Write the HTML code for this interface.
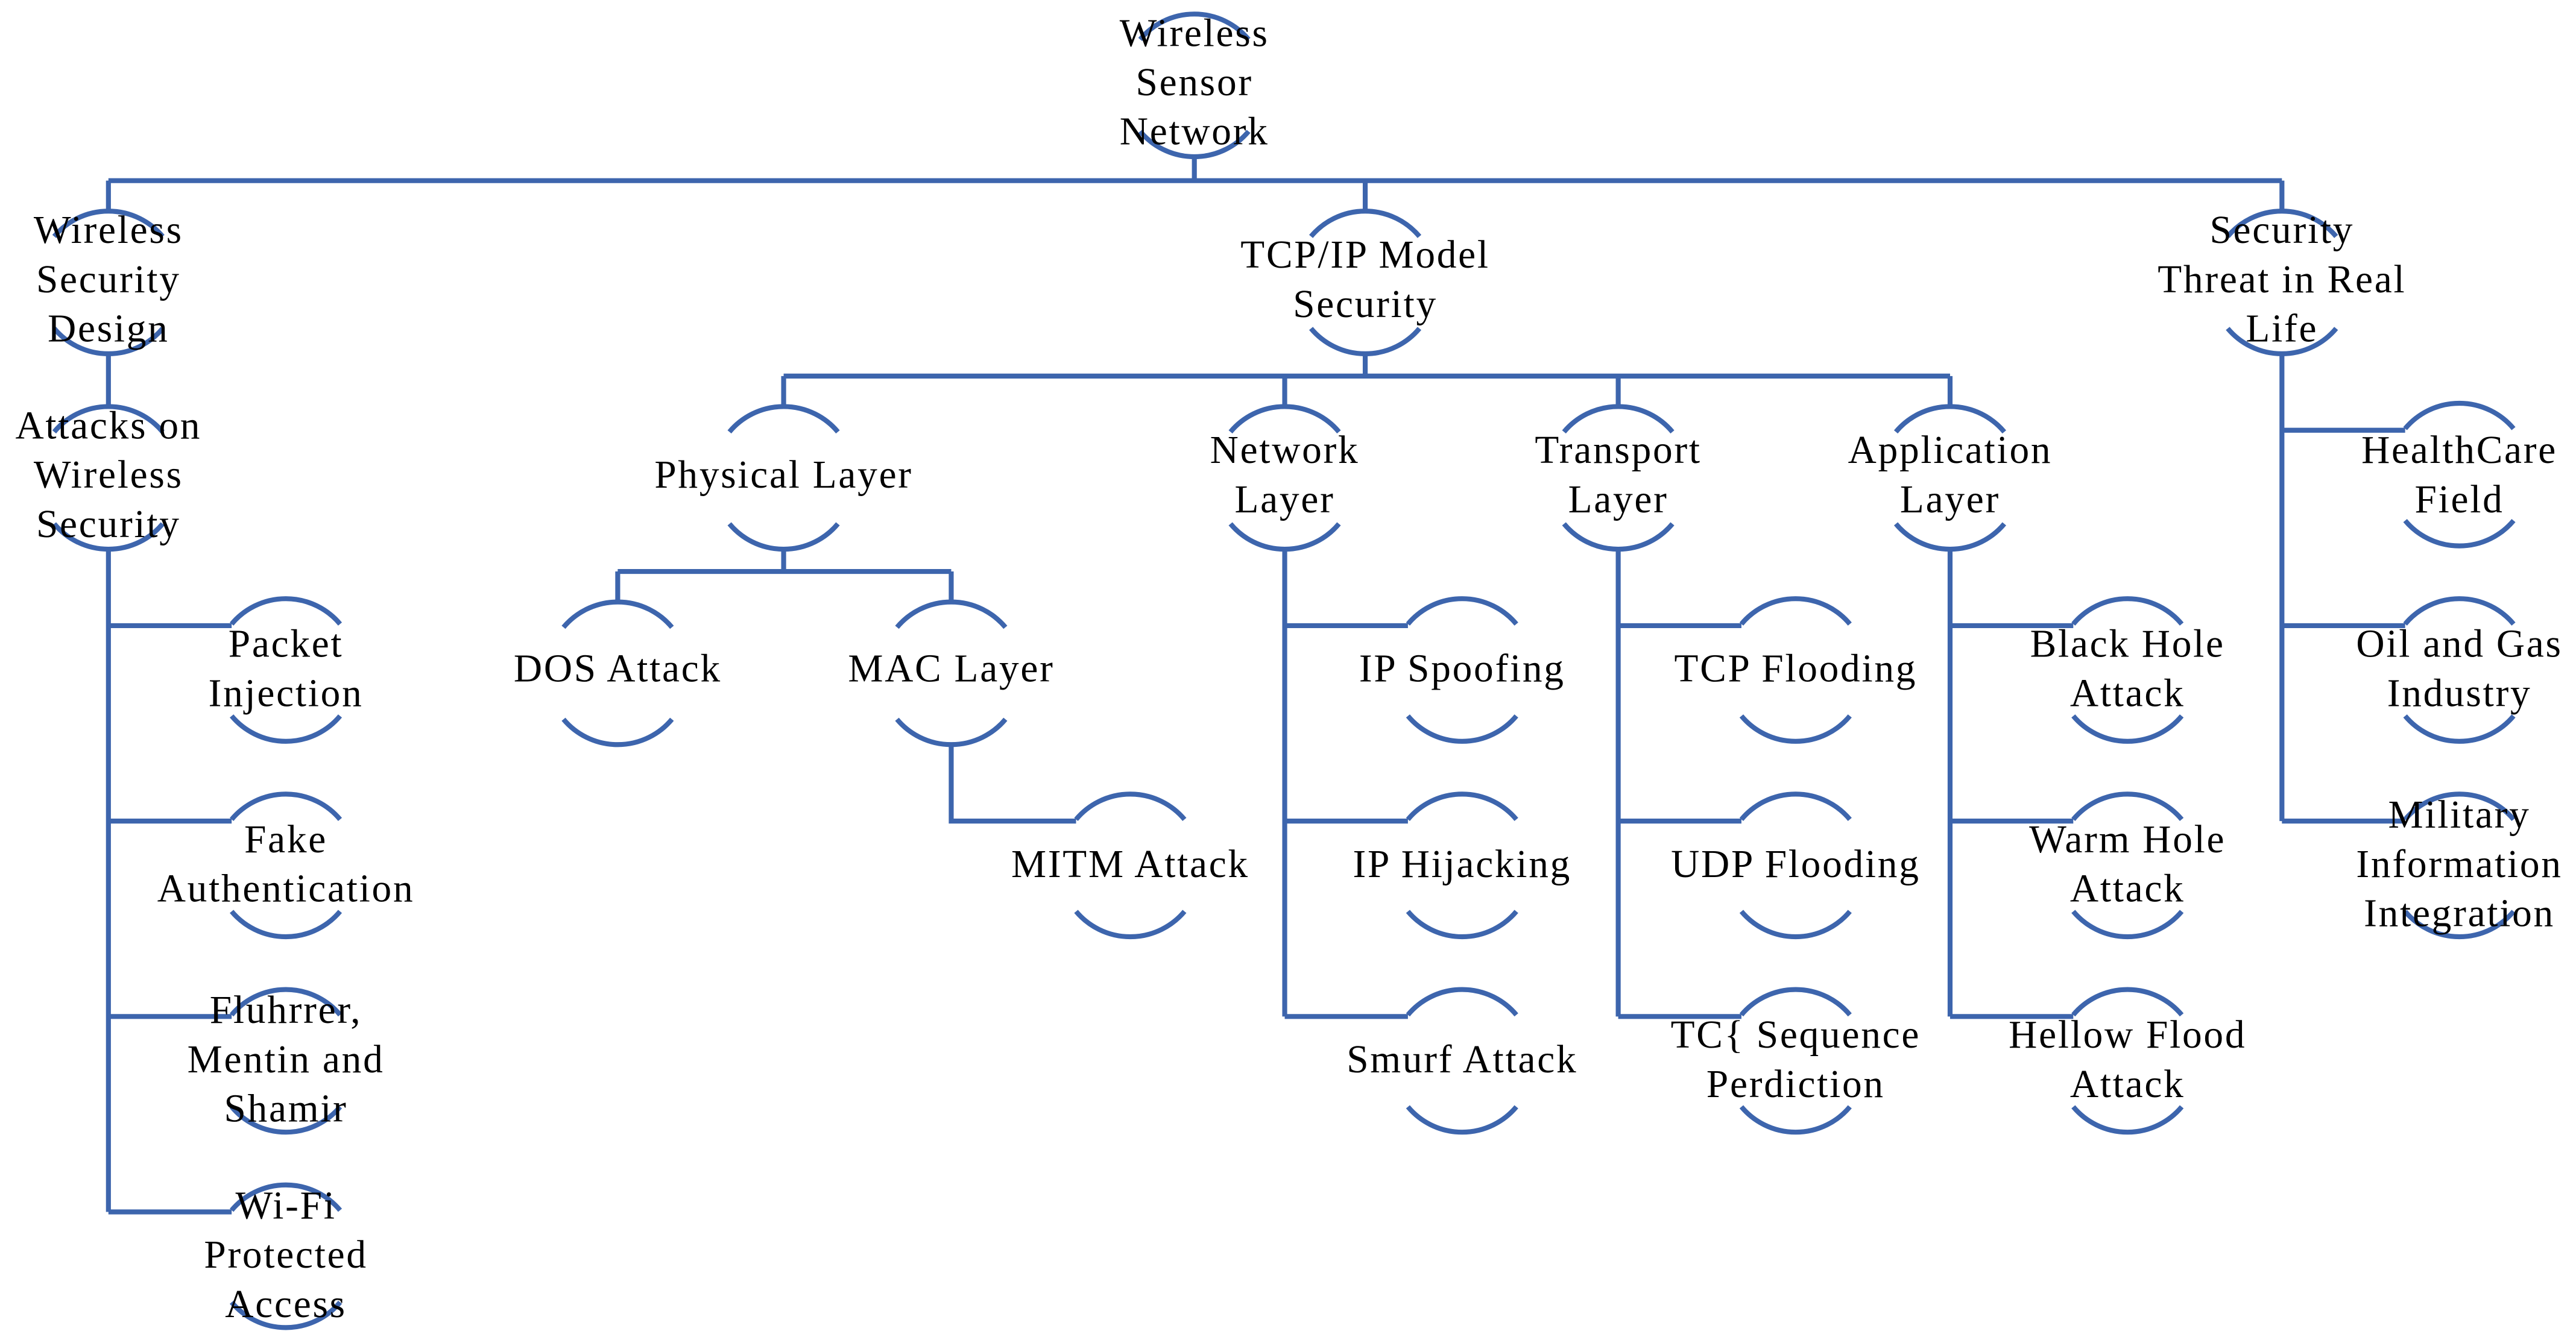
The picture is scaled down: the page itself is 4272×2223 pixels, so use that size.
<!DOCTYPE html>
<html><head><meta charset="utf-8"><style>
html,body{margin:0;padding:0;background:#fff;}
svg{display:block;}
text{font-family:"Liberation Serif",serif;font-size:24px;letter-spacing:1px;fill:#000;text-anchor:middle;}
</style></head><body>
<svg width="4272" height="2223" viewBox="0 0 1568 816" preserveAspectRatio="none" xmlns="http://www.w3.org/2000/svg">
<defs>
<g id="n" fill="none" stroke="#3d65ad" stroke-width="3">
<path d="M-33,-28 A43,43 0 0 1 33,-28"/>
<path d="M-33,28 A43,43 0 0 0 33,28"/>
</g>
</defs>
<g fill="none" stroke="#3d65ad" stroke-width="3">
<path d="M727,95 V110 M66,110 H1389 M66,110 V129 M831,110 V129 M1389,110 V129"/>
<path d="M66,215 V248 M66,334 V738 M66,381 H141 M66,500 H141 M66,619 H141 M66,738 H141"/>
<path d="M831,215 V229 M477,229 H1187 M477,229 V248 M782,229 V248 M985,229 V248 M1187,229 V248"/>
<path d="M477,334 V348 M376,348 H579 M376,348 V367 M579,348 V367 M579,453 V500 H655"/>
<path d="M782,334 V619 M782,381 H857 M782,500 H857 M782,619 H857"/>
<path d="M985,334 V619 M985,381 H1060 M985,500 H1060 M985,619 H1060"/>
<path d="M1187,334 V619 M1187,381 H1262 M1187,500 H1262 M1187,619 H1262"/>
<path d="M1389,215 V500 M1389,262 H1464 M1389,381 H1464 M1389,500 H1464"/>
</g>
<use href="#n" x="727" y="52"/>
<use href="#n" x="66" y="172"/>
<use href="#n" x="831" y="172"/>
<use href="#n" x="1389" y="172"/>
<use href="#n" x="66" y="291"/>
<use href="#n" x="174" y="408"/>
<use href="#n" x="174" y="527"/>
<use href="#n" x="174" y="646"/>
<use href="#n" x="174" y="765"/>
<use href="#n" x="477" y="291"/>
<use href="#n" x="782" y="291"/>
<use href="#n" x="985" y="291"/>
<use href="#n" x="1187" y="291"/>
<use href="#n" x="376" y="410"/>
<use href="#n" x="579" y="410"/>
<use href="#n" x="688" y="527"/>
<use href="#n" x="890" y="408"/>
<use href="#n" x="890" y="527"/>
<use href="#n" x="890" y="646"/>
<use href="#n" x="1093" y="408"/>
<use href="#n" x="1093" y="527"/>
<use href="#n" x="1093" y="646"/>
<use href="#n" x="1295" y="408"/>
<use href="#n" x="1295" y="527"/>
<use href="#n" x="1295" y="646"/>
<use href="#n" x="1497" y="289"/>
<use href="#n" x="1497" y="408"/>
<use href="#n" x="1497" y="527"/>

<text x="727" y="28">Wireless</text><text x="727" y="58">Sensor</text><text x="727" y="88">Network</text>
<text x="66" y="148">Wireless</text><text x="66" y="178">Security</text><text x="66" y="208">Design</text>
<text x="831" y="163">TCP/IP Model</text><text x="831" y="193">Security</text>
<text x="1389" y="148">Security</text><text x="1389" y="178">Threat in Real</text><text x="1389" y="208">Life</text>
<text x="66" y="267">Attacks on</text><text x="66" y="297">Wireless</text><text x="66" y="327">Security</text>
<text x="174" y="400">Packet</text><text x="174" y="430">Injection</text>
<text x="174" y="519">Fake</text><text x="174" y="549">Authentication</text>
<text x="174" y="623">Fluhrrer,</text><text x="174" y="653">Mentin and</text><text x="174" y="683">Shamir</text>
<text x="174" y="742">Wi-Fi</text><text x="174" y="772">Protected</text><text x="174" y="802">Access</text>
<text x="477" y="297">Physical Layer</text>
<text x="782" y="282">Network</text><text x="782" y="312">Layer</text>
<text x="985" y="282">Transport</text><text x="985" y="312">Layer</text>
<text x="1187" y="282">Application</text><text x="1187" y="312">Layer</text>
<text x="376" y="415">DOS Attack</text>
<text x="579" y="415">MAC Layer</text>
<text x="688" y="534">MITM Attack</text>
<text x="890" y="415">IP Spoofing</text>
<text x="890" y="534">IP Hijacking</text>
<text x="890" y="653">Smurf Attack</text>
<text x="1093" y="415">TCP Flooding</text>
<text x="1093" y="534">UDP Flooding</text>
<text x="1093" y="638">TC{ Sequence</text><text x="1093" y="668">Perdiction</text>
<text x="1295" y="400">Black Hole</text><text x="1295" y="430">Attack</text>
<text x="1295" y="519">Warm Hole</text><text x="1295" y="549">Attack</text>
<text x="1295" y="638">Hellow Flood</text><text x="1295" y="668">Attack</text>
<text x="1497" y="282">HealthCare</text><text x="1497" y="312">Field</text>
<text x="1497" y="400">Oil and Gas</text><text x="1497" y="430">Industry</text>
<text x="1497" y="504">Military</text><text x="1497" y="534">Information</text><text x="1497" y="564">Integration</text>
</svg>
</body></html>
